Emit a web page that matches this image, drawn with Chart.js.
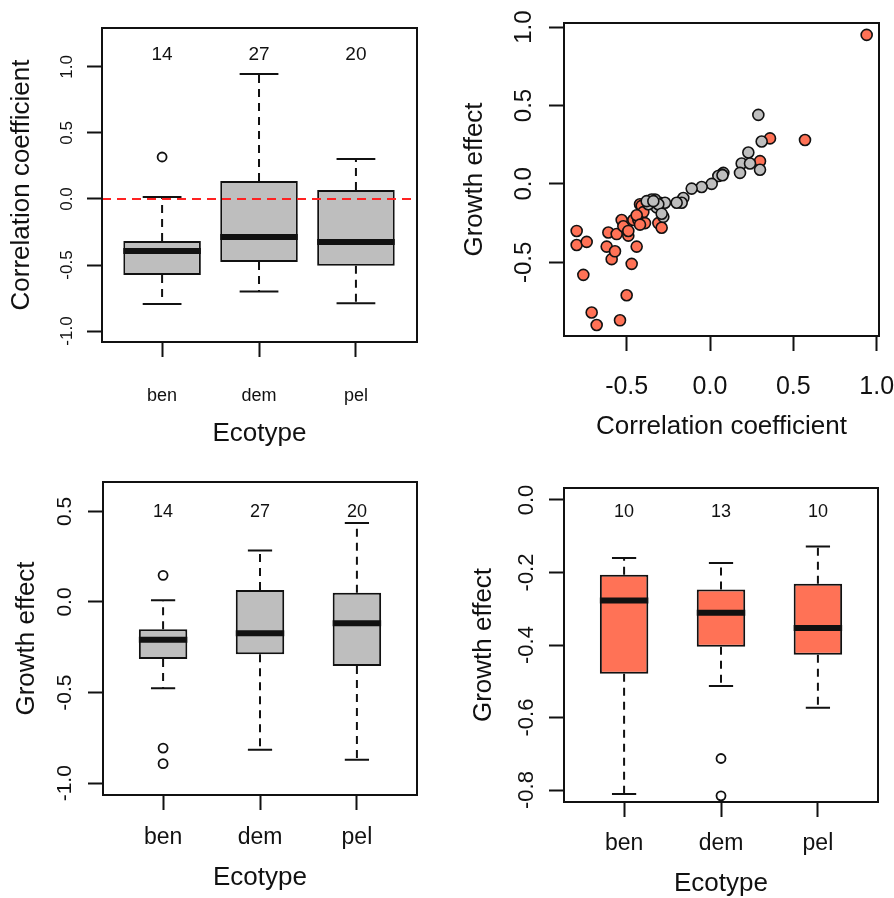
<!DOCTYPE html>
<html>
<head>
<meta charset="utf-8">
<script src="https://cdn.jsdelivr.net/npm/chart.js@4/dist/chart.umd.min.js"></script>
<style>
  html, body { margin: 0; padding: 0; background: #ffffff; width: 894px; height: 898px; overflow: hidden; }
  canvas { position: absolute; display: block; }
</style>
</head>
<body>
<canvas id="c1" width="447" height="449" style="left:0px;top:0px"></canvas>
<canvas id="c2" width="447" height="449" style="left:447px;top:0px"></canvas>
<canvas id="c3" width="447" height="449" style="left:0px;top:449px"></canvas>
<canvas id="c4" width="447" height="449" style="left:447px;top:449px"></canvas>
<script>
// ---------------- DATA ----------------
const ecotypes = ['ben', 'dem', 'pel'];

// Panel A: correlation coefficient by ecotype (box statistics)
const corrLow     = [-0.795, -0.700, -0.790];
const corrQ1      = [-0.576, -0.477, -0.506];
const corrMedian  = [-0.394, -0.288, -0.326];
const corrQ3      = [-0.318,  0.136,  0.068];
const corrHigh    = [ 0.015,  0.947,  0.303];
const corrOutliers = [[0.318], [], []];
const corrCounts  = [14, 27, 20];
const corrTicks   = [-1.0, -0.5, 0.0, 0.5, 1.0];

// Panel B: scatter, growth effect vs correlation coefficient
const grayX = [0.29, 0.31, 0.23, 0.19, 0.24, 0.18, 0.30, 0.08, 0.07, 0.05, 0.075, 0.01, -0.05, -0.11,
               -0.16, -0.17, -0.20, -0.30, -0.33, -0.35, -0.32, -0.28, -0.37, -0.27, -0.38, -0.31, -0.29, -0.34];
const grayY = [0.44, 0.27, 0.20, 0.13, 0.13, 0.07, 0.09, 0.07, 0.06, 0.05, 0.055, 0.00, -0.02, -0.03,
               -0.09, -0.12, -0.12, -0.12, -0.10, -0.10, -0.15, -0.21, -0.13, -0.12, -0.11, -0.13, -0.19, -0.11];
const redX  = [0.94, 0.57, 0.36, 0.30, -0.80, -0.80, -0.74, -0.76, -0.71, -0.68, -0.54, -0.50, -0.47, -0.44,
               -0.62, -0.59, -0.57, -0.61, -0.56, -0.53, -0.52, -0.49, -0.42, -0.41, -0.40, -0.46, -0.43, -0.39,
               -0.31, -0.29, -0.49, -0.44, -0.42];
const redY  = [0.95, 0.28, 0.29, 0.145, -0.30, -0.39, -0.37, -0.58, -0.82, -0.90, -0.87, -0.71, -0.51, -0.40,
               -0.40, -0.48, -0.43, -0.31, -0.32, -0.23, -0.27, -0.33, -0.13, -0.14, -0.18, -0.23, -0.23, -0.25,
               -0.25, -0.28, -0.30, -0.20, -0.26];
const scatterTicks = [-0.5, 0.0, 0.5, 1.0];

// Panel C: growth effect by ecotype (all)
const growLow     = [-0.476, -0.815, -0.870];
const growQ1      = [-0.315, -0.289, -0.353];
const growMedian  = [-0.209, -0.172, -0.117];
const growQ3      = [-0.150,  0.066,  0.051];
const growHigh    = [ 0.009,  0.284,  0.436];
const growOutliers = [[0.147, -0.806, -0.892], [], []];
const growCounts  = [14, 27, 20];
const growTicks   = [-1.0, -0.5, 0.0, 0.5];

// Panel D: growth effect by ecotype (negative subset)
const negLow      = [-0.811, -0.513, -0.573];
const negQ1       = [-0.479, -0.405, -0.427];
const negMedian   = [-0.277, -0.311, -0.353];
const negQ3       = [-0.206, -0.247, -0.231];
const negHigh     = [-0.160, -0.174, -0.128];
const negOutliers = [[], [-0.713, -0.816], []];
const negCounts   = [10, 13, 10];
const negTicks    = [-0.8, -0.6, -0.4, -0.2, 0.0];

// ---------------- STYLE / HELPERS ----------------
const INK = '#111111';
const FAMILY = "'Liberation Sans', Arial, Helvetica, sans-serif";
const GRAY = '#BEBEBE';
const CORAL = '#FF7256';
Chart.defaults.font.family = FAMILY;
Chart.defaults.color = INK;
Chart.defaults.animation = false;

function widestLabel(labels, px) {
  const c = document.createElement('canvas').getContext('2d');
  c.font = px + 'px ' + FAMILY;
  return Math.max(...labels.map(l => c.measureText(l).width));
}

const TICKLEN = 15;

const framePlugin = {
  id: 'frame',
  afterDraw(chart) {
    const { ctx, chartArea: a } = chart;
    ctx.save();
    ctx.strokeStyle = INK;
    ctx.lineWidth = 2;
    ctx.strokeRect(a.left, a.top, a.right - a.left, a.bottom - a.top);
    ctx.restore();
  }
};

const countsPlugin = {
  id: 'counts',
  afterDatasetsDraw(chart, args, opts) {
    if (!opts || !opts.values) return;
    const { ctx, scales } = chart;
    ctx.save();
    ctx.fillStyle = INK;
    ctx.font = opts.size + 'px ' + FAMILY;
    ctx.textAlign = 'center';
    ctx.textBaseline = 'middle';
    opts.values.forEach((n, i) => {
      ctx.fillText(String(n), scales.x.getPixelForValue(i + 1), scales.y.getPixelForValue(opts.y));
    });
    ctx.restore();
  }
};

const refLinePlugin = {
  id: 'refLine',
  afterDatasetsDraw(chart, args, opts) {
    if (!opts || opts.value === undefined) return;
    const { ctx, chartArea: a, scales } = chart;
    const y = scales.y.getPixelForValue(opts.value);
    ctx.save();
    ctx.strokeStyle = opts.color;
    ctx.lineWidth = opts.width;
    ctx.setLineDash(opts.dash);
    ctx.beginPath();
    ctx.moveTo(a.left, y);
    ctx.lineTo(a.right, y);
    ctx.stroke();
    ctx.restore();
  }
};

function fmt(v) { return Number(v).toFixed(1); }

function noScalePadding(s) { s.paddingLeft = 0; s.paddingRight = 0; s.paddingTop = 0; s.paddingBottom = 0; }

function axisX(o) {
  return {
    type: 'linear', min: o.xMin, max: o.xMax, offset: false,
    afterBuildTicks: s => { s.ticks = o.xTicks.map(v => ({ value: v })); },
    afterFit: s => { s.height = o.xH; noScalePadding(s); },
    grid: { display: true, drawOnChartArea: false, drawTicks: true, tickLength: TICKLEN, tickWidth: 2, tickColor: INK, offset: false },
    border: { display: false },
    ticks: {
      autoSkip: false, maxRotation: 0, minRotation: 0, color: INK,
      font: { size: o.xTickSize, lineHeight: 1.2 },
      padding: o.xTickCenter - TICKLEN - o.xTickSize * 0.6,
      callback: o.xLabel
    },
    title: { display: true, text: o.xTitle, color: INK, font: { size: 26, lineHeight: 1 }, padding: { top: 0, bottom: o.xTitleBottom - 13 } }
  };
}

function axisY(o) {
  const labels = o.yTicks.map(fmt);
  const w = widestLabel(labels, o.yTickSize);
  return {
    type: 'linear', min: o.yMin, max: o.yMax,
    afterBuildTicks: s => { s.ticks = o.yTicks.map(v => ({ value: v })); },
    afterFit: s => { s.width = o.yW; noScalePadding(s); },
    grid: { display: true, drawOnChartArea: false, drawTicks: true, tickLength: TICKLEN, tickWidth: 2, tickColor: INK },
    border: { display: false },
    ticks: {
      autoSkip: false, minRotation: 90, maxRotation: 90, crossAlign: 'center', color: INK,
      font: { size: o.yTickSize },
      padding: o.yTickOffset - TICKLEN - w / 2,
      callback: v => fmt(v)
    },
    title: { display: true, text: o.yTitle, color: INK, font: { size: 26, lineHeight: 1 }, padding: { top: o.yTitleX - 13, bottom: 0 } }
  };
}

function boxplotDatasets(st, boxWex, fill) {
  const half = boxWex / 2, capHalf = boxWex / 4;
  const whisk = [], caps = [], meds = [], outs = [], boxes = [];
  st.low.forEach((_, i) => {
    const x = i + 1;
    whisk.push({ x, y: st.q3[i] }, { x, y: st.high[i] }, { x, y: null },
               { x, y: st.q1[i] }, { x, y: st.low[i] }, { x, y: null });
    caps.push({ x: x - capHalf, y: st.high[i] }, { x: x + capHalf, y: st.high[i] }, { x, y: null },
              { x: x - capHalf, y: st.low[i] }, { x: x + capHalf, y: st.low[i] }, { x, y: null });
    meds.push({ x: x - half, y: st.med[i] }, { x: x + half, y: st.med[i] }, { x, y: null });
    st.out[i].forEach(v => outs.push({ x, y: v }));
    boxes.push({ x, y: [st.q1[i], st.q3[i]] });
  });
  const lineBase = { type: 'line', showLine: true, fill: false, pointRadius: 0, borderColor: INK, spanGaps: false, clip: false, tension: 0 };
  return [
    Object.assign({}, lineBase, { data: meds, borderWidth: 6, borderCapStyle: 'butt', order: 0 }),
    { type: 'scatter', data: outs, pointRadius: 4.5, pointBorderWidth: 1.8, pointBorderColor: INK, pointBackgroundColor: '#ffffff', order: 1, clip: false },
    { type: 'bar', data: boxes, backgroundColor: fill, borderColor: INK, borderWidth: 2, borderSkipped: false,
      barPercentage: boxWex, categoryPercentage: 1, order: 2 },
    Object.assign({}, lineBase, { data: whisk, borderWidth: 2, borderDash: [8, 6], order: 3 }),
    Object.assign({}, lineBase, { data: caps, borderWidth: 2, order: 3 })
  ];
}

function boxplotChart(id, st, o) {
  return new Chart(document.getElementById(id), {
    type: 'scatter',
    data: { datasets: boxplotDatasets(st, o.boxWex, o.fill) },
    options: {
      responsive: false, animation: false, events: [],
      layout: { autoPadding: false, padding: { top: o.top, right: o.right, left: 0, bottom: 0 } },
      plugins: {
        legend: { display: false }, tooltip: { enabled: false },
        counts: { values: st.n, y: o.countY, size: o.countSize },
        refLine: o.refLine || {}
      },
      scales: {
        x: axisX(Object.assign({ xTicks: [1, 2, 3], xLabel: v => ecotypes[Math.round(v) - 1] }, o)),
        y: axisY(o)
      }
    },
    plugins: [framePlugin, countsPlugin, refLinePlugin]
  });
}

// ---------------- PANELS ----------------
boxplotChart('c1',
  { low: corrLow, q1: corrQ1, med: corrMedian, q3: corrQ3, high: corrHigh, out: corrOutliers, n: corrCounts },
  { top: 28, right: 30, yW: 102, xH: 107, xMin: 0.38, xMax: 3.63, yMin: -1.083, yMax: 1.295,
    yTicks: corrTicks, boxWex: 0.8, fill: GRAY, yTickSize: 17, xTickSize: 18, countSize: 19, countY: 1.09,
    yTickOffset: 35, xTickCenter: 54, yTitle: 'Correlation coefficient', yTitleX: 22,
    xTitle: 'Ecotype', xTitleBottom: 15,
    refLine: { value: 0, color: '#FF2222', width: 2, dash: [9, 6] } });

new Chart(document.getElementById('c2'), {
  type: 'scatter',
  data: {
    datasets: [
      { data: redX.map((x, i) => ({ x, y: redY[i] })), pointRadius: 5.5, pointBorderWidth: 1.6,
        pointBorderColor: INK, pointBackgroundColor: CORAL, clip: false, order: 1 },
      { data: grayX.map((x, i) => ({ x, y: grayY[i] })), pointRadius: 5.5, pointBorderWidth: 1.6,
        pointBorderColor: INK, pointBackgroundColor: GRAY, clip: false, order: 0 }
    ]
  },
  options: {
    responsive: false, animation: false, events: [],
    layout: { autoPadding: false, padding: { top: 23, right: 15, left: 0, bottom: 0 } },
    plugins: { legend: { display: false }, tooltip: { enabled: false } },
    scales: {
      x: axisX({ xTicks: scatterTicks, xLabel: v => fmt(v), xMin: -0.876, xMax: 1.014, xH: 113,
                 xTickSize: 25, xTickCenter: 51, xTitle: 'Correlation coefficient', xTitleBottom: 22 }),
      y: axisY({ yTicks: scatterTicks, yMin: -0.970, yMax: 1.026, yW: 117, yTickSize: 24,
                 yTickOffset: 40, yTitle: 'Growth effect', yTitleX: 28 })
    }
  },
  plugins: [framePlugin]
});

boxplotChart('c3',
  { low: growLow, q1: growQ1, med: growMedian, q3: growQ3, high: growHigh, out: growOutliers, n: growCounts },
  { top: 33, right: 30, yW: 103, xH: 103, xMin: 0.38, xMax: 3.62, yMin: -1.065, yMax: 0.662,
    yTicks: growTicks, boxWex: 0.5, fill: GRAY, yTickSize: 21, xTickSize: 23, countSize: 18, countY: 0.495,
    yTickOffset: 38, xTickCenter: 43, yTitle: 'Growth effect', yTitleX: 27,
    xTitle: 'Ecotype', xTitleBottom: 20 });

boxplotChart('c4',
  { low: negLow, q1: negQ1, med: negMedian, q3: negQ3, high: negHigh, out: negOutliers, n: negCounts },
  { top: 39, right: 16, yW: 117, xH: 96, xMin: 0.38, xMax: 3.62, yMin: -0.833, yMax: 0.033,
    yTicks: negTicks, boxWex: 0.5, fill: CORAL, yTickSize: 22, xTickSize: 23, countSize: 18, countY: -0.034,
    yTickOffset: 37, xTickCenter: 42, yTitle: 'Growth effect', yTitleX: 37,
    xTitle: 'Ecotype', xTitleBottom: 14 });
</script>
</body>
</html>
